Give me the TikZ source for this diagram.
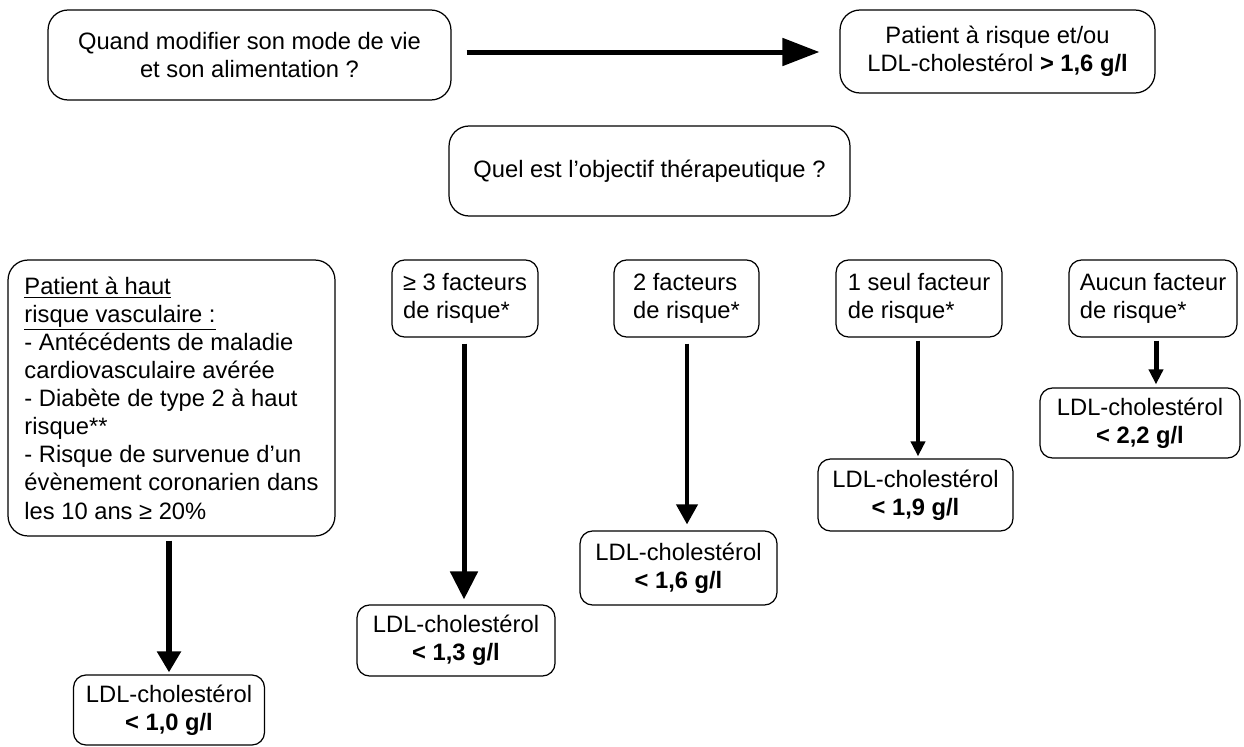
\documentclass[tikz,border=0pt]{standalone}
\usepackage{fontspec}
\setmainfont{Liberation Sans}
\usetikzlibrary{arrows.meta}

\begin{document}
\begin{tikzpicture}[x=0.02cm,y=-0.02cm,
  b/.style={draw=black,line width=0.7pt,rounded corners=0.25cm,align=center,inner sep=0pt,font=\fontsize{13.5}{16}\selectfont},
  bl/.style={b,align=left},
  big/.style={b,rounded corners=0.4cm}]
                \useasboundingbox (0,0) rectangle (1244,747);

                \node[big,minimum width=8.06cm,minimum height=1.8cm] (quand) at (249.5,55) {Quand modifier son mode de vie\\et son alimentation ?};
                \node[big,minimum width=6.3cm,minimum height=1.66cm] (pat) at (997.5,51.5) {Patient à risque et/ou\\LDL-cholestérol \textbf{> 1,6 g/l}};
                \node[big,minimum width=8.02cm,minimum height=1.8cm] (obj) at (649.5,171) {Quel est l’objectif thérapeutique ?};

                \node[bl,rounded corners=0.4cm,minimum width=6.54cm,minimum height=5.52cm] (haut) at (171.5,398) {\underline{Patient à haut}\\\underline{risque vasculaire :}\\- Antécédents de maladie\\cardiovasculaire avérée\\- Diabète de type 2 à haut\\risque**\\- Risque de survenue d’un\\évènement coronarien dans\\les 10 ans ≥ 20\%};
                \node[bl,minimum width=2.92cm,minimum height=1.54cm] (f3) at (465,298.5) {≥ 3 facteurs\\de risque*};
                \node[bl,minimum width=2.9cm,minimum height=1.54cm] (f2) at (686.5,298.5) {2 facteurs\\de risque*};
                \node[bl,minimum width=3.32cm,minimum height=1.54cm] (f1) at (919,298.5) {1 seul facteur\\de risque*};
                \node[bl,minimum width=3.36cm,minimum height=1.54cm] (f0) at (1153,298.5) {Aucun facteur\\de risque*};

                \node[b,minimum width=3.82cm,minimum height=1.4cm] (l10) at (169,710) {LDL-cholestérol\\\textbf{< 1,0 g/l}};
                \node[b,minimum width=3.96cm,minimum height=1.42cm] (l13) at (456,640.5) {LDL-cholestérol\\\textbf{< 1,3 g/l}};
                \node[b,minimum width=3.94cm,minimum height=1.48cm] (l16) at (678.5,568) {LDL-cholestérol\\\textbf{< 1,6 g/l}};
                \node[b,minimum width=3.9cm,minimum height=1.44cm] (l19) at (915.5,495) {LDL-cholestérol\\\textbf{< 1,9 g/l}};
                \node[b,minimum width=4cm,minimum height=1.4cm] (l22) at (1140,423) {LDL-cholestérol\\\textbf{< 2,2 g/l}};

                \draw[line width=0.1cm,-{Triangle[length=0.74cm,width=0.54cm]},shorten <=0.3cm,shorten >=0.4cm] (quand.east |- 0,52) -- (pat.west |- 0,52);

                \draw[line width=0.11cm,-{Triangle[length=0.42cm,width=0.46cm]},shorten <=0.08cm,shorten >=0.04cm] (l10.north |- haut.south) -- (l10.north);
                \draw[line width=0.1cm,-{Triangle[length=0.56cm,width=0.54cm]},shorten <=0.12cm,shorten >=0.1cm] (f3.south -| 464,0) -- (l13.north -| 464,0);
                \draw[line width=0.08cm,-{Triangle[length=0.4cm,width=0.42cm]},shorten <=0.12cm,shorten >=0.12cm] (f2.south -| 687,0) -- (l16.north -| 687,0);
                \draw[line width=0.08cm,-{Triangle[length=0.3cm,width=0.28cm]},shorten <=0.06cm,shorten >=0.04cm] (f1.south -| 918,0) -- (l19.north -| 918,0);
                \draw[line width=0.1cm,-{Triangle[length=0.3cm,width=0.28cm]},shorten <=0.06cm,shorten >=0.06cm] (f0.south -| 1156,0) -- (l22.north -| 1156,0);
            \end{tikzpicture}
\end{document}
